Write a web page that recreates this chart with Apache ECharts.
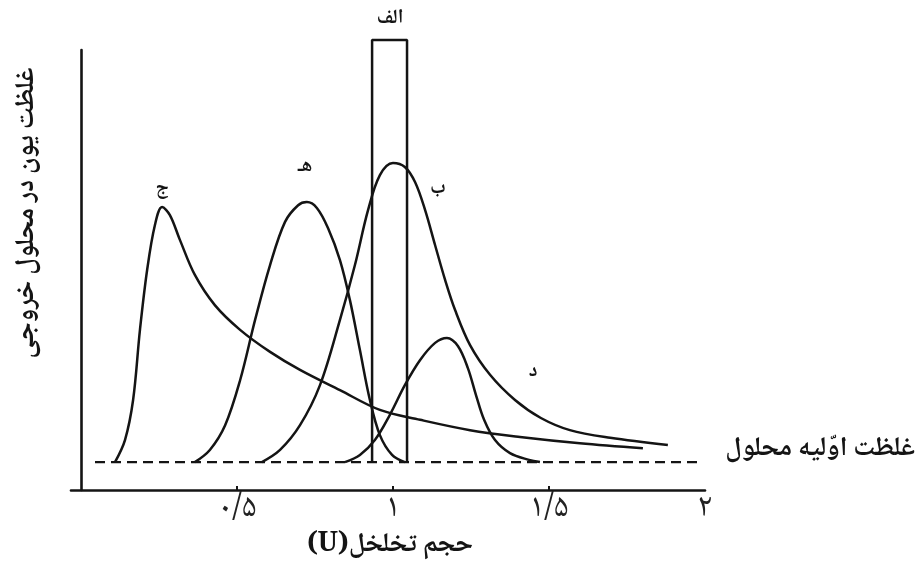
<!DOCTYPE html>
<html>
<head>
<meta charset="utf-8">
<script src="https://cdn.jsdelivr.net/npm/echarts@6/dist/echarts.min.js"></script>
<style>
html,body{margin:0;padding:0;background:#fff;}
#chart{width:921px;height:574px;}
</style>
</head>
<body>
<div id="chart"></div>
<script>
// ---- data ----
const baselineLevel = 6.2;
const baselineX = [0.045, 1.984];

const columnX = [0.933, 1.045];
const columnTop = 100;

const curveJx = [0.109,0.141,0.167,0.189,0.212,0.237,0.260,0.285,0.317,0.365,0.429,0.510,0.606,0.702,0.830,0.958,1.087,1.247,1.407,1.599,1.801];
const curveJy = [6.2,11.1,20.0,35.6,48.9,58.9,62.9,61.1,55.6,47.8,41.1,35.6,30.7,26.7,22.2,17.8,15.6,13.3,11.8,10.4,9.3];

const curveHx = [0.365,0.413,0.462,0.510,0.558,0.606,0.654,0.696,0.724,0.756,0.792,0.830,0.862,0.894,0.926,0.958,0.997,1.038];
const curveHy = [6.2,8.9,14.4,24.4,37.8,50.0,59.6,63.3,64.0,62.7,58.2,51.1,42.2,31.1,20.0,12.2,7.8,6.2];

const curveBx = [0.580,0.638,0.702,0.766,0.830,0.878,0.920,0.958,1.000,1.038,1.071,1.103,1.135,1.167,1.199,1.247,1.311,1.391,1.474,1.567,1.696,1.881];
const curveBy = [6.2,8.9,14.4,23.3,37.8,50.0,62.2,70.0,72.7,71.8,68.4,62.2,54.4,46.7,40.0,32.2,25.6,20.0,16.0,13.3,11.6,10.0];

const curveDx = [0.846,0.894,0.942,0.990,1.038,1.087,1.135,1.173,1.208,1.240,1.266,1.292,1.327,1.375,1.436,1.471];
const curveDy = [6.2,7.8,11.1,16.7,23.3,28.9,32.7,33.8,32.0,27.1,21.1,15.6,11.1,8.2,6.7,6.2];

const xTickValues = [0.5, 1, 1.5, 2];
const xTickLabels = ['۰/۵', '۱', '۱/۵', '۲'];

const xAxisTitle = '\u202Bحجم تخلخل(U)\u202C';
const yAxisTitle = 'غلظت یون در محلول خروجی';
const baselineTitle = 'غلظت اوّلیه محلول';
const curveNames = ['الف', 'ب', 'ج', 'د', 'هـ'];

// ---- build ----
const zip = (xs, ys) => xs.map((x, i) => [x, ys[i]]);
const INK = '#141414';
const FONT = '"Noto Naskh Arabic", "DejaVu Sans", sans-serif';

const chart = echarts.init(document.getElementById('chart'), null, {renderer: 'canvas'});

const curveSeries = (name, xs, ys) => ({
  name, type: 'line', data: zip(xs, ys), smooth: 0.35, symbol: 'none',
  lineStyle: {color: INK, width: 2.5}, clip: false, z: 3
});

const labelStyle = (text, x, y, size) => ({
  type: 'text', x, y,
  style: {text, fill: INK, font: 'bold ' + size + 'px ' + FONT, textAlign: 'center', textVerticalAlign: 'middle'}
});

chart.setOption({
  animation: false,
  backgroundColor: '#ffffff',
  grid: {left: 71, right: 216, top: 50, bottom: 84},
  xAxis: {
    type: 'value', min: -0.032, max: 2,
    axisLine: {show: true, lineStyle: {color: INK, width: 2.6}},
    axisTick: {show: true, inside: true, length: 4, customValues: [0.5, 1, 1.5], lineStyle: {color: INK, width: 2}},
    axisLabel: {
      show: true, customValues: xTickValues, margin: 5,
      formatter: v => { const i = xTickValues.findIndex(t => Math.abs(t - v) < 1e-6); return i >= 0 ? xTickLabels[i] : ''; },
      color: '#222', fontSize: 33, fontFamily: FONT
    },
    splitLine: {show: false}
  },
  yAxis: {
    type: 'value', min: 0, max: 97.8,
    axisLine: {show: true, lineStyle: {color: INK, width: 2.6}},
    axisTick: {show: false}, axisLabel: {show: false}, splitLine: {show: false}
  },
  series: [
    {
      name: 'baseline', type: 'line', symbol: 'none',
      data: [[baselineX[0], baselineLevel], [baselineX[1], baselineLevel]],
      lineStyle: {color: INK, width: 2.4, type: [10, 6]}, z: 2
    },
    {
      name: curveNames[0], type: 'line', symbol: 'none', clip: false,
      data: [[columnX[0], baselineLevel], [columnX[0], columnTop], [columnX[1], columnTop], [columnX[1], baselineLevel]],
      lineStyle: {color: INK, width: 2.5}, z: 3
    },
    curveSeries(curveNames[1], curveBx, curveBy),
    curveSeries(curveNames[2], curveJx, curveJy),
    curveSeries(curveNames[3], curveDx, curveDy),
    curveSeries(curveNames[4], curveHx, curveHy)
  ],
  graphic: [
    labelStyle(curveNames[0], 390, 20, 20),
    labelStyle(curveNames[1], 438, 190, 20),
    labelStyle(curveNames[2], 162, 190, 20),
    labelStyle(curveNames[3], 533, 373, 20),
    labelStyle(curveNames[4], 305, 168, 20),
    {
      type: 'text', x: 915, y: 452,
      style: {text: baselineTitle, fill: INK, font: 'bold 27px ' + FONT, textAlign: 'right', textVerticalAlign: 'middle'}
    },
    {
      type: 'text', x: 390, y: 548,
      style: {text: xAxisTitle, fill: INK, font: 'bold 27px ' + FONT, textAlign: 'center', textVerticalAlign: 'middle'}
    },
    {
      type: 'text', x: 30, y: 213, rotation: Math.PI / 2,
      style: {text: yAxisTitle, fill: INK, font: 'bold 27px ' + FONT, textAlign: 'center', textVerticalAlign: 'middle'}
    }
  ]
});
</script>
</body>
</html>
